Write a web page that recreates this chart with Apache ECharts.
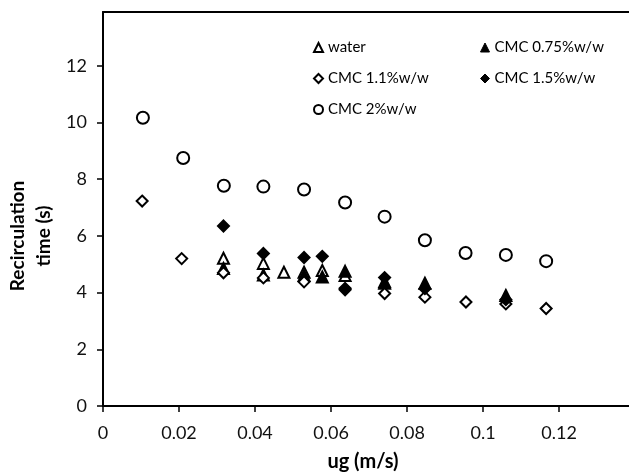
<!DOCTYPE html>
<html>
<head>
<meta charset="utf-8">
<script src="https://cdn.jsdelivr.net/npm/echarts@6/dist/echarts.min.js"></script>
<style>
  html, body { margin: 0; padding: 0; background: #fff; }
  #chart { width: 629px; height: 476px; }
</style>
</head>
<body>
<div id="chart"></div>
<script>
// tick labels
var xTicks = [0, 0.02, 0.04, 0.06, 0.08, 0.1, 0.12];
var yTicks = [0, 2, 4, 6, 8, 10, 12];

// water
var waterX = [0.0317, 0.0422, 0.0476, 0.0529, 0.0577, 0.0637, 0.0741];
var waterY = [5.21, 5.03, 4.72, 4.72, 4.78, 4.6, 4.38];
// CMC 0.75%w/w
var cmc075X = [0.0317, 0.0422, 0.0529, 0.0577, 0.0637, 0.0741, 0.0847, 0.106];
var cmc075Y = [4.85, 4.62, 4.6, 4.55, 4.75, 4.33, 4.33, 3.9];
// CMC 1.1%w/w
var cmc11X = [0.0103, 0.0207, 0.0317, 0.0422, 0.0529, 0.0637, 0.0741, 0.0847, 0.0955, 0.106, 0.1166];
var cmc11Y = [7.23, 5.2, 4.7, 4.52, 4.38, 4.15, 3.97, 3.84, 3.67, 3.6, 3.44];
// CMC 1.5%w/w
var cmc15X = [0.0317, 0.0422, 0.0529, 0.0577, 0.0637, 0.0741, 0.0847, 0.106];
var cmc15Y = [6.35, 5.38, 5.24, 5.28, 4.1, 4.53, 4.14, 3.75];
// CMC 2%w/w
var cmc2X = [0.0105, 0.0211, 0.0318, 0.0422, 0.0529, 0.0637, 0.0741, 0.0847, 0.0954, 0.106, 0.1166];
var cmc2Y = [10.17, 8.75, 7.77, 7.74, 7.64, 7.18, 6.68, 5.85, 5.4, 5.33, 5.11];

function pairs(xs, ys) {
  return xs.map(function (x, i) { return [x, ys[i]]; });
}

var font = "Lato, 'Open Sans', sans-serif";
var chart = echarts.init(document.getElementById("chart"));

function scatter(name, data, symbol, size) {
  return {
    name: name,
    type: "scatter",
    data: data,
    symbol: symbol,
    symbolSize: size,
    itemStyle: { color: "#000", borderColor: "#000", borderWidth: 2, opacity: 1 },
    emphasis: { disabled: true },
  };
}

var legendText = { fontFamily: font, fontSize: 15, color: "#000" };

var option = {
  animation: false,
  backgroundColor: "#fff",
  grid: { left: 103, right: 0, top: 12, bottom: 70 },
  legend: [
    {
      left: 308,
      top: 35,
      orient: "vertical",
      itemGap: 16,
      itemWidth: 9,
      itemHeight: 9,
      data: ["water", "CMC 1.1%w/w", "CMC 2%w/w"],
      textStyle: legendText,
      itemStyle: { borderWidth: 1 },
    },
    {
      left: 475,
      top: 35,
      orient: "vertical",
      itemGap: 16,
      itemWidth: 9,
      itemHeight: 9,
      data: ["CMC 0.75%w/w", "CMC 1.5%w/w"],
      textStyle: legendText,
      itemStyle: { borderWidth: 1 },
    },
  ],
  xAxis: [
    {
      type: "value",
      min: 0,
      max: 0.1384,
      splitLine: { show: false },
      axisLine: { lineStyle: { color: "#000", width: 2 } },
      axisTick: { show: true, length: 6, lineStyle: { color: "#000", width: 1.5 }, customValues: xTicks },
      axisLabel: { customValues: xTicks, margin: 18, fontFamily: font, fontSize: 18, color: "#111" },
    },
    {
      type: "value",
      position: "top",
      min: 0,
      max: 0.1384,
      splitLine: { show: false },
      axisLine: { show: true, lineStyle: { color: "#000", width: 2 } },
      axisTick: { show: false },
      axisLabel: { show: false },
    },
  ],
  yAxis: {
    type: "value",
    min: 0,
    max: 13.9,
    splitLine: { show: false },
    axisLine: { show: true, lineStyle: { color: "#000", width: 2 } },
    axisTick: { show: true, length: 6, lineStyle: { color: "#000", width: 1.5 }, customValues: yTicks },
    axisLabel: { customValues: yTicks, margin: 16, fontFamily: font, fontSize: 18, color: "#111" },
  },
  graphic: [
    {
      type: "text",
      x: 363,
      y: 462,
      style: {
        text: "ug (m/s)",
        fontFamily: font, fontSize: 20, fontWeight: "bold", fill: "#000",
        align: "center", verticalAlign: "middle",
      },
    },
    {
      type: "text",
      x: 31,
      y: 236,
      rotation: Math.PI / 2,
      style: {
        text: "Recirculation\ntime (s)",
        fontFamily: font, fontSize: 19, fontWeight: "bold", fill: "#000",
        lineHeight: 26,
        align: "center", verticalAlign: "middle",
      },
    },
  ],
  series: [
    scatter("water", pairs(waterX, waterY), "emptyTriangle", 11),
    scatter("CMC 0.75%w/w", pairs(cmc075X, cmc075Y), "triangle", 11),
    scatter("CMC 1.1%w/w", pairs(cmc11X, cmc11Y), "emptyDiamond", 11),
    scatter("CMC 1.5%w/w", pairs(cmc15X, cmc15Y), "diamond", 11),
    scatter("CMC 2%w/w", pairs(cmc2X, cmc2Y), "emptyCircle", 12),
  ],
};

chart.setOption(option);
</script>
</body>
</html>
